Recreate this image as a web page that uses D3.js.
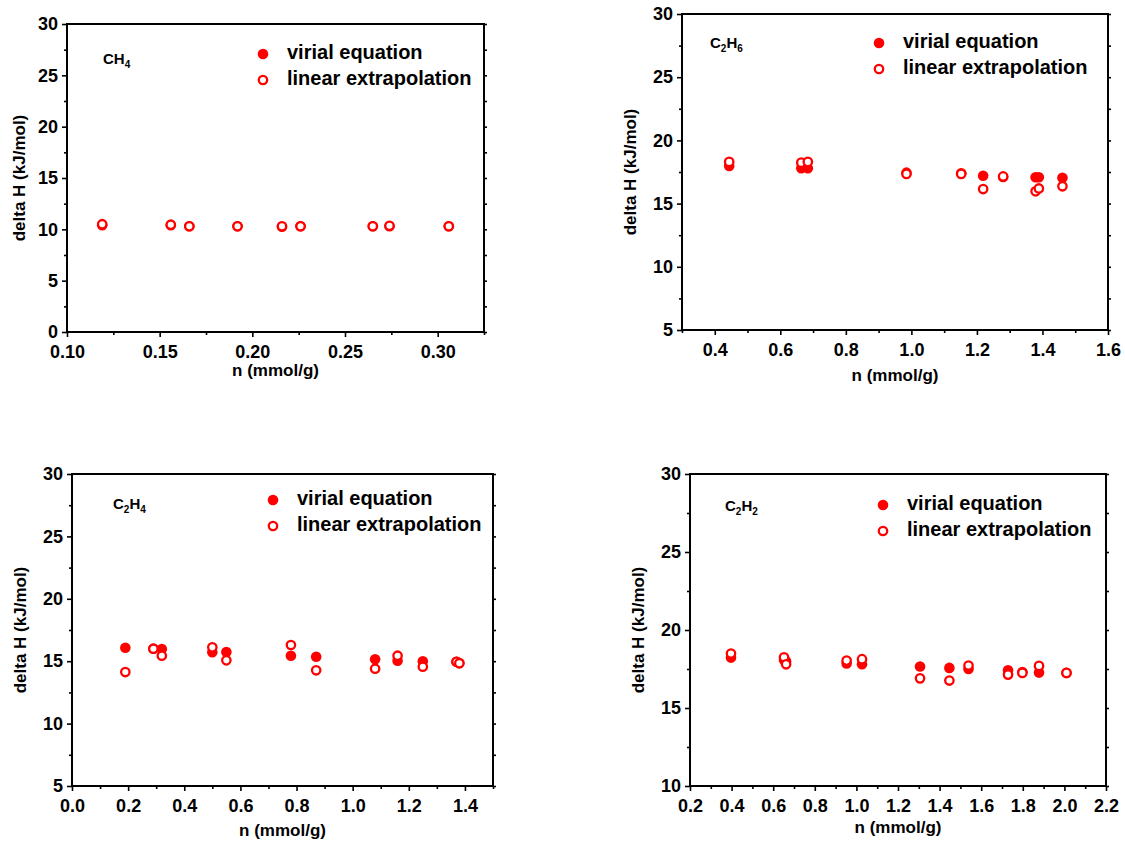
<!DOCTYPE html>
<html>
<head>
<meta charset="utf-8">
<script src="https://cdn.jsdelivr.net/npm/d3@7"></script>
<style>
  body { margin: 0; background: #fff; }
  svg text { font-family: "Liberation Sans", Arial, sans-serif; font-weight: bold; fill: #000; }
</style>
</head>
<body>
<svg width="1125" height="843"></svg>
<script>
// данные: CH4
const ch4X      = [0.119, 0.156, 0.166, 0.192, 0.216, 0.226, 0.265, 0.274, 0.306];
const ch4Virial = [10.4, 10.4, 10.3, 10.3, 10.25, 10.3, 10.3, 10.3, 10.3];
const ch4Linear = [10.5, 10.45, 10.3, 10.3, 10.3, 10.3, 10.3, 10.35, 10.3];

// C2H6
const c2h6X      = [0.444, 0.664, 0.684, 0.985, 1.152, 1.219, 1.28, 1.379, 1.389, 1.461];
const c2h6Virial = [17.97, 17.8, 17.8, 17.45, 17.4, 17.2, 17.1, 17.08, 17.08, 17.05];
const c2h6Linear = [18.3, 18.24, 18.3, 17.35, 17.35, 16.15, 17.15, 15.97, 16.2, 16.37];

// C2H4
const c2h4X      = [0.19, 0.29, 0.32, 0.50, 0.55, 0.78, 0.87, 1.08, 1.16, 1.25, 1.37, 1.38];
const c2h4Virial = [16.08, 16.0, 15.98, 15.72, 15.74, 15.44, 15.36, 15.15, 15.04, 15.0, 14.95, 14.85];
const c2h4Linear = [14.13, 16.0, 15.44, 16.11, 15.07, 16.3, 14.27, 14.4, 15.44, 14.56, 14.95, 14.83];

// C2H2
const c2h2X      = [0.397, 0.652, 0.662, 0.953, 1.027, 1.306, 1.447, 1.539, 1.729, 1.798, 1.878, 2.01];
const c2h2Virial = [18.23, 18.08, 18.0, 17.85, 17.8, 17.66, 17.57, 17.5, 17.42, 17.3, 17.27, 17.25];
const c2h2Linear = [18.49, 18.25, 17.8, 18.04, 18.13, 16.9, 16.76, 17.72, 17.14, 17.25, 17.7, 17.25];

const legendNames = ["virial equation", "linear extrapolation"];
const yLabel = "delta H (kJ/mol)";
const xLabel = "n (mmol/g)";

// настройки панелей (положение области графика в пикселях)
const panels = [
  { gas: ["CH", "4"], x: ch4X, virial: ch4Virial, linear: ch4Linear,
    left: 67, top: 24, right: 484, bottom: 332,
    xDomain: [0.10, 0.325], xFirst: 0.10, xStep: 0.05, xFmt: ".2f",
    yDomain: [0, 30], yStep: 5,
    gasPos: [103, 64], legPos: [263, 54], yLabPos: 21, xLabY: 372 },
  { gas: ["C", "2", "H", "6"], x: c2h6X, virial: c2h6Virial, linear: c2h6Linear,
    left: 682, top: 14, right: 1108, bottom: 330,
    xDomain: [0.3, 1.6], xFirst: 0.4, xStep: 0.2, xFmt: ".1f",
    yDomain: [5, 30], yStep: 5,
    gasPos: [710, 48], legPos: [879, 43], yLabPos: 632, xLabY: 377 },
  { gas: ["C", "2", "H", "4"], x: c2h4X, virial: c2h4Virial, linear: c2h4Linear,
    left: 72, top: 474, right: 493, bottom: 786,
    xDomain: [0, 1.5], xFirst: 0, xStep: 0.2, xFmt: ".1f",
    yDomain: [5, 30], yStep: 5,
    gasPos: [113, 509], legPos: [273, 500], yLabPos: 22, xLabY: 832 },
  { gas: ["C", "2", "H", "2"], x: c2h2X, virial: c2h2Virial, linear: c2h2Linear,
    left: 690, top: 474, right: 1106, bottom: 786,
    xDomain: [0.2, 2.2], xFirst: 0.2, xStep: 0.2, xFmt: ".1f",
    yDomain: [10, 30], yStep: 5,
    gasPos: [725, 511], legPos: [883, 505], yLabPos: 640, xLabY: 829 }
];

const svg = d3.select("svg");
const red = "#ff0000";

function drawMarker(g, cx, cy, filled) {
  if (filled) {
    g.append("circle").attr("cx", cx).attr("cy", cy).attr("r", 5.3)
      .style("fill", red);
  } else {
    g.append("circle").attr("cx", cx).attr("cy", cy).attr("r", 4.2)
      .style("fill", "#fff").style("stroke", red).style("stroke-width", 2.3);
  }
}

function drawPanel(p) {
  const scX = d3.scaleLinear().domain(p.xDomain).range([p.left, p.right]);
  const scY = d3.scaleLinear().domain(p.yDomain).range([p.bottom, p.top]);

  const eps = 1e-9;
  const xMajor = d3.range(p.xFirst, p.xDomain[1] + eps, p.xStep);
  const xMinor = d3.range(p.xFirst - p.xStep / 2, p.xDomain[1] + eps, p.xStep)
                   .filter(v => v >= p.xDomain[0] - eps);
  const yMajor = d3.range(p.yDomain[0], p.yDomain[1] + eps, p.yStep);
  const yMinor = d3.range(p.yDomain[0] + p.yStep / 2, p.yDomain[1], p.yStep);

  const g = svg.append("g");

  // рамка
  g.append("rect")
    .attr("x", p.left).attr("y", p.top)
    .attr("width", p.right - p.left).attr("height", p.bottom - p.top)
    .style("fill", "none").style("stroke", "#000").style("stroke-width", 2);

  // ось OX
  g.append("g").attr("transform", `translate(0, ${p.bottom})`)
    .call(d3.axisBottom(scX).tickValues(xMajor).tickFormat(d3.format(p.xFmt))
      .tickSize(5).tickSizeOuter(0).tickPadding(8));
  g.append("g").attr("transform", `translate(0, ${p.bottom})`)
    .call(d3.axisBottom(scX).tickValues(xMinor).tickFormat("").tickSize(3).tickSizeOuter(0));

  // ось OY
  g.append("g").attr("transform", `translate(${p.left}, 0)`)
    .call(d3.axisLeft(scY).tickValues(yMajor).tickFormat(d3.format("d"))
      .tickSize(5).tickSizeOuter(0).tickPadding(4));
  g.append("g").attr("transform", `translate(${p.left}, 0)`)
    .call(d3.axisLeft(scY).tickValues(yMinor).tickFormat("").tickSize(3).tickSizeOuter(0));

  // правая ось - только засечки
  g.append("g").attr("transform", `translate(${p.right}, 0)`)
    .call(d3.axisRight(scY).tickValues(yMajor.concat(yMinor)).tickFormat("").tickSize(3).tickSizeOuter(0));

  g.selectAll(".domain").remove();
  g.selectAll("g").attr("font-family", null).attr("font-size", null);
  g.selectAll(".tick line").style("stroke", "#000").style("stroke-width", 1.6);
  g.selectAll(".tick text").style("font-size", "18px");

  // подписи осей
  g.append("text")
    .attr("x", (p.left + p.right) / 2).attr("y", p.xLabY)
    .attr("text-anchor", "middle").attr("dominant-baseline", "middle")
    .style("font-size", "17px").text(xLabel);
  g.append("text")
    .attr("transform", `translate(${p.yLabPos}, ${(p.top + p.bottom) / 2}) rotate(-90)`)
    .attr("text-anchor", "middle").attr("dominant-baseline", "middle")
    .style("font-size", "17px").text(yLabel);

  // название газа с индексами
  const gas = g.append("text").attr("x", p.gasPos[0]).attr("y", p.gasPos[1])
    .style("font-size", "15px");
  p.gas.forEach((s, i) => {
    const sub = /\d/.test(s);
    gas.append("tspan").text(s)
      .style("font-size", sub ? "10px" : "15px")
      .attr("dy", sub ? 4 : (i > 0 ? -4 : 0));
  });

  // точки: сначала virial (закрашенные), затем linear (полые)
  p.x.forEach((v, i) => drawMarker(g, scX(v), scY(p.virial[i]), true));
  p.x.forEach((v, i) => drawMarker(g, scX(v), scY(p.linear[i]), false));

  // легенда
  legendNames.forEach((name, i) => {
    const ly = p.legPos[1] + i * 26;
    drawMarker(g, p.legPos[0], ly, i === 0);
    g.append("text").attr("x", p.legPos[0] + 24).attr("y", ly)
      .attr("dominant-baseline", "middle")
      .style("font-size", "20px").text(name);
  });
}

panels.forEach(drawPanel);
</script>
</body>
</html>
